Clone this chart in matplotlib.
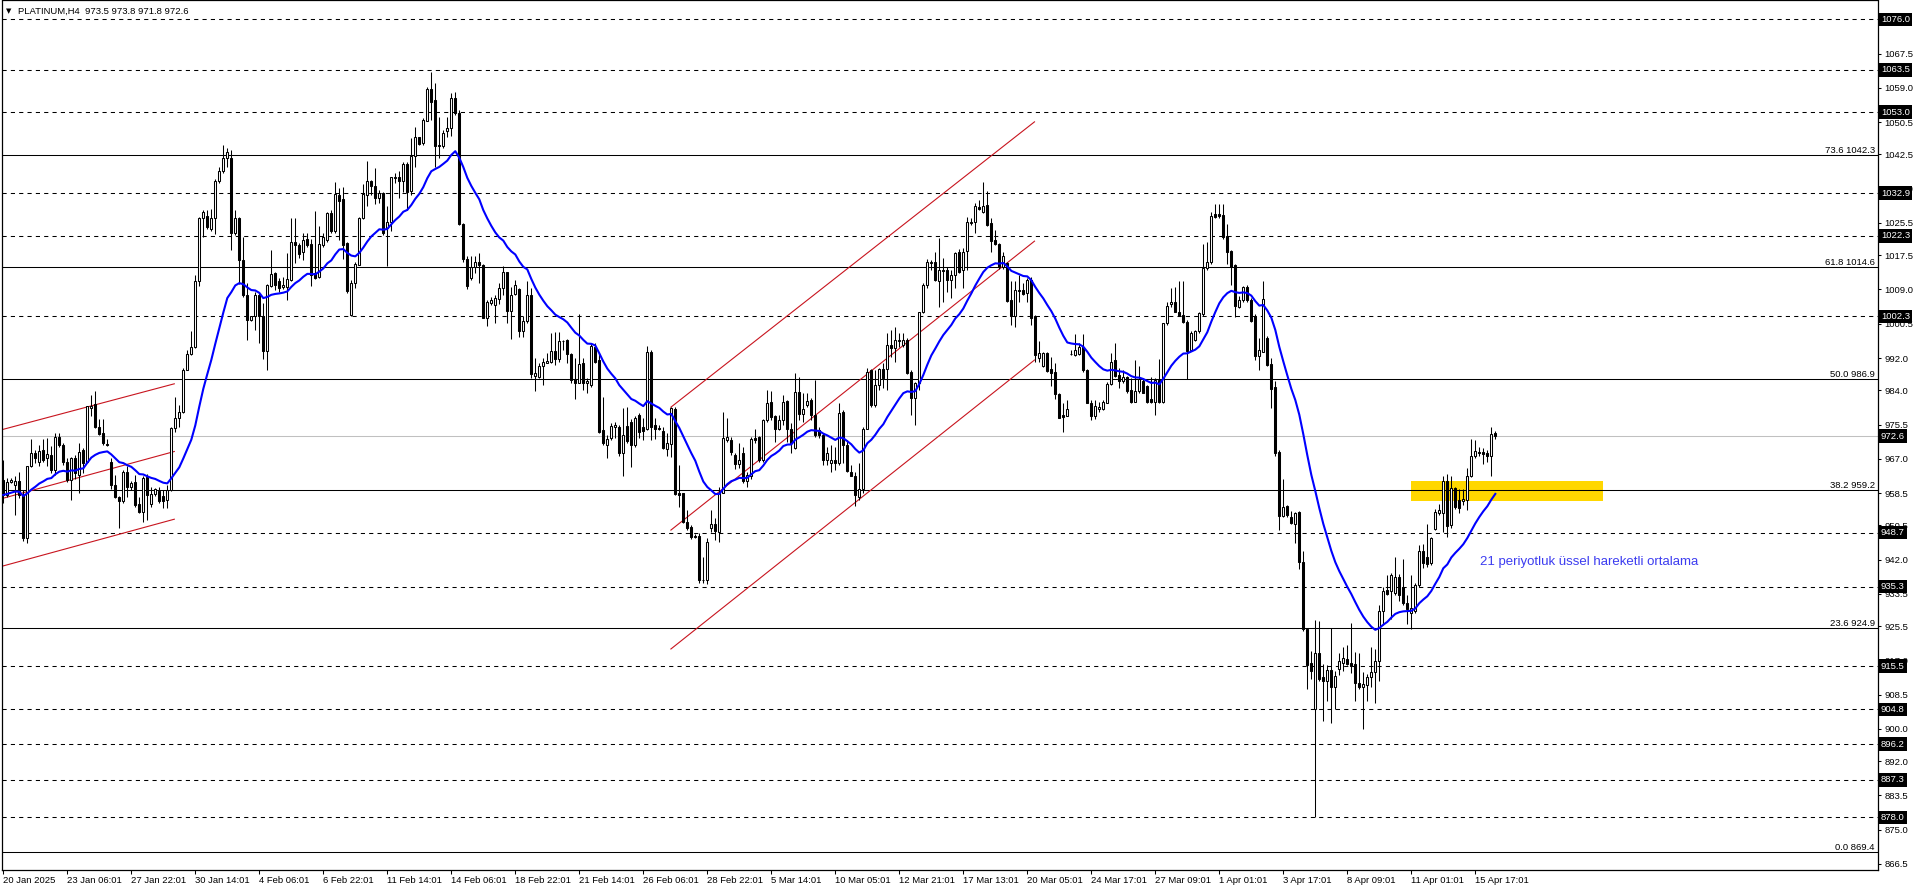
import numpy as np
import pandas as pd
import matplotlib
matplotlib.use("Agg")
import matplotlib.pyplot as plt
from matplotlib.patches import Rectangle
from matplotlib.transforms import offset_copy

plt.rcParams['font.family'] = ['Liberation Sans', 'DejaVu Sans']

# ---------------- data (PLATINUM, H4) ----------------
OPEN = [961.8, 958.0, 961.2, 960.5, 961.5, 958.0, 947.3, 965.1, 968.5, 966.1,
969.2, 967.1, 968.0, 964.2, 972.4, 970.4, 966.3, 961.8, 967.1, 963.0,
969.2, 966.3, 979.5, 980.6, 975.0, 973.3, 970.7, 966.3, 960.5, 957.6,
956.4, 963.8, 959.9, 961.3, 955.8, 953.7, 962.4, 955.7, 958.2, 958.9,
957.8, 956.8, 959.3, 974.7, 977.1, 978.5, 989.0, 993.0, 994.7, 1011.0,
1026.7, 1027.3, 1024.0, 1026.7, 1035.8, 1038.3, 1041.6, 1041.6, 1023.0, 1026.7,
1016.3, 1007.7, 1001.5, 1002.3, 1007.7, 1002.4, 993.8, 1009.9, 1013.2, 1011.0,
1009.6, 1009.7, 1011.4, 1020.9, 1020.1,
1018.4, 1021.5, 1020.3, 1013.0, 1012.2, 1020.1, 1021.3, 1027.9, 1023.6, 1032.5,
1031.4, 1020.6, 1002.7, 1010.7, 1015.2, 1026.7, 1032.5, 1035.9, 1034.7, 1031.6,
1033.0, 1024.2, 1025.7, 1036.7, 1036.8, 1035.8, 1040.1, 1033.5, 1042.1, 1046.8,
1045.3, 1050.9, 1058.7, 1055.9, 1044.9, 1044.5, 1048.4, 1049.0, 1056.4, 1052.9,
1025.2, 1016.5, 1011.8, 1014.5, 1015.9, 1015.1, 1002.0, 1005.7, 1005.2, 1006.6,
1009.4, 1013.3, 1003.7, 1007.8, 1009.1, 998.6, 1001.3, 1007.6, 987.6, 987.4,
990.1, 990.8, 991.1, 993.8, 991.8, 996.2, 996.5, 992.9, 986.7, 985.9,
990.7, 985.7, 985.3, 994.8, 991.5,
974.1, 970.4, 972.1, 975.0, 975.0, 968.4, 975.1, 976.0, 970.4, 977.8,
974.8, 974.4, 993.4, 975.4, 974.6, 974.0, 969.3, 970.7, 979.3, 958.5,
958.5, 951.4, 950.0, 947.8, 947.8, 936.8, 936.8, 949.9, 950.8, 948.9,
958.6, 971.7, 971.7, 967.9, 965.6, 968.4, 961.5, 962.6, 972.1, 972.5,
966.7, 976.6, 981.2, 977.6, 974.3, 976.6, 981.3, 974.3, 969.6, 983.6,
978.0, 980.3, 981.6, 977.9, 974.1, 972.9, 966.7, 966.0, 966.7, 966.0,
978.7, 970.4, 963.6, 962.7, 957.6, 959.4, 974.5, 988.9, 980.3, 985.3,
989.2, 989.2, 995.2, 994.6,
996.1, 995.2, 996.5, 988.6, 982.2, 985.7, 1003.3, 1010.1, 1015.6, 1015.7,
1011.1, 1013.9, 1013.9, 1011.4, 1012.6, 1018.4, 1013.9, 1018.6, 1025.4, 1025.8,
1029.4, 1028.3, 1030.0, 1025.4, 1021.3, 1020.3, 1014.7, 1015.5, 1006.4, 1002.3,
1008.9, 1008.9, 1008.1, 1011.4, 1002.3, 992.1, 989.9, 993.3, 989.2, 988.5,
983.1, 977.8, 977.5, 992.9, 992.8, 993.0, 994.8, 989.0, 980.9, 977.6,
979.3, 979.3, 980.9, 985.6, 991.4, 987.8, 986.4, 987.2, 984.1, 981.2,
983.7, 986.4, 985.1, 981.8, 981.2, 986.6, 981.0, 1000.6, 1005.3, 1006.0,
1003.5, 1002.7, 1001.0, 994.0, 996.5, 998.6,
1002.9, 1014.3, 1015.8, 1027.8, 1027.8, 1027.5, 1022.3, 1018.5, 1015.1, 1004.6,
1006.4, 1009.6, 1006.4, 1002.4, 992.4, 993.6, 996.9, 990.6, 984.7, 968.8,
952.8, 955.3, 952.6, 950.8, 953.8, 941.5, 924.8, 916.3, 904.9, 918.8,
912.8, 911.8, 914.6, 910.3, 914.8, 916.3, 917.3, 916.3, 916.0, 911.3,
910.3, 910.8, 912.8, 914.0, 916.8, 929.3, 934.5, 934.2, 933.7, 937.7,
935.2, 931.2, 928.8, 929.3, 935.7, 944.2, 942.7, 941.2, 949.5, 953.6,
953.6, 961.6, 950.5, 959.8, 956.8, 956.6, 956.8, 962.6, 967.6, 968.8,
968.6, 968.4, 967.6, 973.5]

HIGH = [966.7, 962.2, 962.2, 962.6, 963.8, 959.3, 965.2, 971.9, 969.2, 970.4,
971.9, 972.1, 970.2, 973.5, 973.3, 971.0, 967.1, 967.5, 968.0, 970.9,
969.6, 980.1, 982.9, 983.7, 976.8, 976.8, 971.9, 967.1, 963.0, 957.8,
964.2, 965.1, 961.6, 963.0, 957.6, 962.6, 963.2, 960.1, 959.7, 960.1,
959.3, 960.5, 974.8, 982.4, 980.4, 989.5, 994.0, 998.6, 1012.6, 1027.1,
1028.8, 1028.8, 1028.9, 1036.4, 1039.5, 1044.9, 1044.1, 1043.5, 1028.8, 1027.1,
1022.1, 1010.6, 1002.4, 1008.5, 1008.1, 1005.6, 1010.4, 1018.8, 1013.4, 1011.8,
1012.2, 1018.0, 1026.7, 1026.7, 1020.5,
1023.1, 1022.9, 1021.5, 1028.5, 1024.8, 1022.9, 1028.3, 1028.7, 1035.6, 1034.1,
1034.4, 1020.9, 1011.4, 1015.9, 1027.1, 1035.1, 1040.9, 1036.2, 1039.1, 1033.7,
1033.3, 1029.6, 1037.0, 1038.0, 1038.3, 1040.7, 1040.7, 1046.5, 1049.4, 1046.9,
1051.5, 1059.3, 1062.9, 1060.2, 1051.9, 1048.6, 1051.9, 1057.7, 1058.0, 1053.5,
1025.4, 1017.2, 1017.2, 1017.2, 1018.0, 1015.3, 1006.4, 1007.2, 1007.6, 1010.5,
1014.8, 1013.4, 1009.7, 1011.4, 1009.3, 1002.3, 1011.0, 1009.3, 991.9, 990.7,
991.9, 993.2, 998.1, 998.5, 998.5, 996.5, 996.6, 993.2, 991.9, 1002.9,
991.9, 987.0, 995.6, 995.6, 993.2,
982.4, 972.9, 975.8, 976.0, 975.4, 979.5, 979.8, 976.8, 977.6, 978.3,
977.0, 995.0, 994.0, 977.0, 975.5, 975.0, 973.3, 979.9, 979.8, 965.5,
958.6, 954.3, 950.6, 948.3, 948.7, 942.7, 947.3, 954.3, 952.2, 960.1,
978.7, 977.0, 972.3, 968.5, 970.8, 969.8, 963.8, 972.5, 974.3, 972.6,
976.8, 984.1, 983.7, 977.9, 977.9, 982.8, 981.6, 975.9, 988.4, 987.4,
983.2, 983.2, 982.0, 986.5, 975.0, 973.3, 970.0, 970.4, 970.0, 980.8,
979.1, 971.7, 965.5, 963.8, 965.9, 975.0, 989.4, 989.2, 989.0, 989.4,
990.7, 998.1, 999.0, 999.8,
998.1, 998.1, 996.9, 989.0, 986.1, 1003.5, 1010.5, 1016.5, 1016.3, 1018.4,
1021.7, 1016.8, 1014.7, 1013.9, 1018.4, 1019.0, 1019.2, 1027.1, 1026.7, 1030.4,
1031.2, 1035.6, 1033.5, 1026.7, 1023.8, 1020.5, 1018.4, 1015.9, 1011.0, 1011.0,
1012.6, 1010.7, 1011.8, 1012.0, 1002.7, 996.1, 993.6, 993.6, 992.3, 990.7,
983.3, 980.8, 981.6, 994.0, 998.0, 995.7, 998.0, 989.2, 981.6, 981.6,
981.2, 981.6, 986.1, 993.3, 995.8, 989.5, 989.0, 987.6, 987.0, 991.4,
989.9, 987.0, 985.3, 987.4, 987.0, 991.7, 1000.8, 1006.0, 1009.3, 1009.6,
1011.0, 1011.0, 1001.4, 998.8, 998.9, 1003.5,
1020.3, 1020.8, 1028.3, 1030.3, 1030.3, 1030.3, 1025.3, 1018.8, 1015.3, 1007.4,
1009.9, 1010.2, 1006.9, 1002.9, 996.9, 1011.2, 997.4, 991.9, 986.3, 969.1,
962.1, 955.6, 954.1, 953.8, 954.1, 944.2, 925.0, 919.3, 927.0, 926.8,
916.0, 915.8, 925.0, 914.3, 918.8, 920.3, 920.8, 926.3, 919.0, 918.8,
914.0, 913.6, 920.3, 919.8, 930.8, 935.2, 938.2, 938.7, 942.7, 938.5,
942.2, 933.2, 938.2, 936.2, 945.7, 945.9, 950.7, 947.7, 954.6, 955.8,
962.6, 963.1, 962.6, 960.1, 959.6, 959.6, 964.6, 972.0, 971.7, 969.8,
969.6, 969.1, 975.0, 973.8]

LOW = [956.0, 957.6, 960.9, 953.1, 957.2, 946.5, 946.1, 964.9, 965.9, 965.1,
966.3, 965.1, 963.4, 963.0, 970.0, 965.5, 961.3, 956.8, 961.9, 958.5,
963.4, 965.9, 977.5, 974.6, 972.9, 970.4, 970.2, 959.4, 957.2, 949.8,
956.0, 957.6, 959.3, 955.1, 953.5, 951.4, 951.8, 955.1, 957.8, 956.1,
954.7, 954.7, 958.9, 973.7, 974.8, 978.3, 988.9, 992.8, 994.4, 1009.9,
1022.1, 1024.0, 1023.6, 1022.8, 1035.4, 1038.0, 1039.5, 1018.8, 1022.5, 1010.4,
1007.2, 996.5, 1001.3, 999.0, 995.7, 991.7, 989.0, 1009.7, 1008.9, 1008.5,
1009.0, 1006.4, 1011.2, 1015.5, 1016.8,
1016.3, 1019.6, 1009.9, 1011.5, 1011.8, 1019.6, 1020.9, 1022.9, 1023.1, 1021.3,
1016.5, 1008.1, 1002.4, 1009.3, 1015.1, 1026.4, 1029.6, 1032.5, 1030.2, 1030.4,
1022.5, 1014.8, 1023.6, 1035.5, 1031.6, 1033.3, 1028.7, 1032.5, 1039.3, 1044.9,
1044.9, 1050.7, 1051.1, 1039.5, 1041.6, 1044.0, 1046.9, 1047.1, 1052.3, 1025.0,
1015.9, 1009.1, 1011.4, 1013.0, 1010.7, 1001.9, 1000.0, 1005.2, 1000.6, 1005.3,
1007.6, 1000.6, 996.6, 1007.6, 997.3, 997.3, 1000.6, 987.0, 983.7, 987.0,
985.3, 990.7, 990.8, 990.3, 991.1, 994.0, 990.7, 985.9, 981.8, 985.7,
984.1, 983.4, 984.9, 990.7, 973.5,
970.4, 967.1, 971.7, 972.1, 967.7, 962.8, 970.8, 965.0, 970.0, 972.1,
971.7, 974.1, 971.7, 971.8, 974.1, 969.3, 967.7, 967.5, 957.9, 955.1,
951.0, 949.3, 947.0, 947.3, 936.1, 936.1, 935.9, 948.9, 946.9, 946.4,
958.4, 971.2, 967.9, 964.4, 964.6, 961.1, 960.1, 962.1, 970.8, 966.3,
966.3, 976.0, 976.6, 971.2, 974.1, 975.4, 971.2, 968.4, 969.3, 976.6,
976.2, 979.9, 976.6, 972.5, 972.1, 965.5, 965.5, 963.6, 964.2, 965.5,
965.9, 963.6, 962.6, 955.4, 956.8, 958.4, 974.4, 979.9, 979.9, 984.1,
984.5, 984.1, 992.3, 991.1,
994.8, 994.8, 988.0, 977.9, 975.4, 984.1, 1003.1, 1009.3, 1013.9, 1011.0,
1004.7, 1006.0, 1008.5, 1006.8, 1009.3, 1013.2, 1009.3, 1013.9, 1025.0, 1022.9,
1028.7, 1028.1, 1024.8, 1018.4, 1020.1, 1014.0, 1014.0, 1006.0, 1000.2, 999.8,
1006.0, 1007.6, 1006.0, 1000.2, 991.0, 991.1, 989.7, 988.6, 985.1, 981.8,
977.1, 973.7, 977.5, 992.8, 992.5, 992.8, 988.6, 980.8, 976.6, 976.8,
978.7, 979.1, 980.8, 985.3, 987.2, 984.5, 985.7, 983.4, 980.9, 981.0,
983.4, 983.2, 980.9, 980.8, 977.9, 980.9, 980.9, 1000.2, 1004.7, 1003.3,
1002.3, 1000.6, 986.7, 993.8, 996.1, 998.1,
1002.4, 1013.8, 1015.3, 1026.8, 1026.8, 1021.5, 1015.3, 1010.2, 1002.2, 1004.4,
1005.9, 1005.9, 1000.9, 991.6, 988.9, 993.4, 990.0, 979.7, 967.6, 949.4,
952.6, 952.6, 950.8, 946.2, 939.7, 924.3, 909.8, 912.3, 878.0, 911.8,
901.9, 906.8, 901.4, 904.9, 913.3, 914.3, 915.8, 913.8, 906.8, 909.8,
899.9, 906.8, 910.3, 906.4, 911.8, 925.8, 933.2, 927.3, 933.2, 931.7,
930.7, 926.0, 924.8, 928.8, 935.2, 939.9, 940.2, 940.7, 949.2, 953.1,
948.9, 947.7, 949.9, 954.6, 953.6, 955.6, 954.4, 962.4, 967.1, 967.6,
965.8, 966.1, 962.8, 971.8]

CLOSE = [958.0, 961.3, 961.8, 961.5, 958.0, 947.3, 965.1, 968.5, 967.1, 969.0,
966.7, 968.2, 964.2, 972.5, 970.4, 966.1, 961.8, 967.1, 963.4, 968.8,
965.9, 980.0, 980.1, 974.8, 973.2, 970.9, 970.4, 960.5, 957.6, 956.4,
963.8, 960.0, 961.1, 955.6, 953.7, 962.2, 958.0, 958.3, 959.4, 956.6,
956.6, 959.3, 974.6, 977.1, 978.7, 989.0, 992.9, 994.7, 1011.0, 1026.7,
1028.3, 1024.4, 1026.7, 1035.8, 1038.3, 1041.6, 1043.0, 1023.0, 1026.7, 1016.3,
1007.7, 1001.5, 1002.3, 1007.7, 1002.3, 993.8, 1010.1, 1012.9, 1010.1, 1009.3,
1010.1, 1011.5, 1020.9, 1020.1, 1017.8,
1021.3, 1020.1, 1012.6, 1011.8, 1020.2, 1022.1, 1028.1, 1023.6, 1032.6, 1031.0,
1020.1, 1008.7, 1010.7, 1015.3, 1026.7, 1032.6, 1035.8, 1034.8, 1031.8, 1033.0,
1022.9, 1025.7, 1036.8, 1036.9, 1035.8, 1040.1, 1033.3, 1042.1, 1046.9, 1045.1,
1051.1, 1058.7, 1055.6, 1044.6, 1044.5, 1047.8, 1049.0, 1056.4, 1052.7, 1025.2,
1016.5, 1009.9, 1014.7, 1015.9, 1015.1, 1002.0, 1006.0, 1006.4, 1006.8, 1009.4,
1013.3, 1003.7, 1007.6, 1010.0, 998.6, 1001.3, 1007.6, 988.0, 988.2, 990.1,
991.1, 991.3, 993.8, 991.8, 996.2, 996.1, 992.9, 986.6, 985.9, 990.5,
985.7, 986.3, 995.0, 991.1, 973.7,
970.8, 971.8, 975.2, 975.5, 968.4, 972.8, 971.5, 970.3, 977.0, 973.7,
973.9, 993.4, 975.0, 974.4, 974.4, 969.6, 970.8, 979.5, 958.2, 958.0,
951.4, 949.7, 947.7, 947.6, 936.8, 936.9, 946.4, 950.7, 949.1, 958.6,
972.2, 972.3, 968.8, 965.6, 966.8, 961.5, 963.0, 971.9, 971.7, 966.7,
976.6, 980.8, 977.4, 974.3, 976.6, 981.2, 974.3, 970.8, 983.6, 978.0,
979.4, 981.4, 977.9, 972.9, 972.9, 966.7, 968.4, 966.7, 966.0, 978.3,
970.4, 964.0, 962.7, 957.9, 959.5, 974.5, 988.6, 980.3, 985.3, 989.2,
987.0, 995.2, 994.4, 996.5,
996.5, 996.5, 988.2, 982.2, 985.7, 1003.3, 1010.1, 1015.7, 1015.8, 1011.4,
1013.9, 1013.6, 1011.4, 1012.6, 1018.0, 1013.4, 1018.4, 1025.8, 1025.8, 1029.6,
1028.9, 1029.8, 1025.0, 1021.1, 1020.3, 1014.7, 1017.3, 1006.2, 1002.5, 1008.9,
1008.7, 1007.9, 1011.4, 1001.9, 992.8, 993.2, 993.3, 988.8, 988.4, 983.1,
977.2, 977.3, 979.3, 993.1, 994.0, 994.8, 988.9, 980.9, 977.6, 980.1,
979.8, 981.2, 985.6, 991.1, 987.5, 986.4, 987.4, 983.7, 981.2, 983.9,
986.7, 983.4, 981.2, 981.2, 986.6, 981.2, 1000.6, 1004.9, 1006.0, 1003.5,
1002.5, 1001.0, 993.7, 998.1, 998.7, 1003.1,
1014.3, 1015.8, 1027.3, 1027.1, 1027.3, 1022.1, 1018.3, 1014.5, 1004.9, 1006.4,
1009.6, 1006.4, 1001.2, 992.4, 993.9, 1006.6, 990.2, 984.3, 968.4, 952.8,
955.1, 953.1, 951.1, 953.6, 941.5, 924.8, 915.8, 914.3, 918.8, 912.3,
911.8, 914.6, 910.3, 913.0, 916.8, 917.5, 916.0, 915.6, 911.3, 910.3,
911.1, 912.8, 914.0, 916.8, 929.3, 934.2, 933.5, 938.2, 937.7, 933.2,
931.2, 929.8, 930.0, 935.7, 944.2, 941.2, 940.9, 947.4, 953.8, 954.4,
961.6, 950.2, 959.8, 955.1, 954.8, 957.1, 962.6, 967.6, 968.9, 968.4,
968.2, 967.6, 973.2, 972.6]

TIME_LABELS = ["20 Jan 2025", "23 Jan 06:01", "27 Jan 22:01", "30 Jan 14:01", "4 Feb 06:01",
               "6 Feb 22:01", "11 Feb 14:01", "14 Feb 06:01", "18 Feb 22:01", "21 Feb 14:01",
               "26 Feb 06:01", "28 Feb 22:01", "5 Mar 14:01", "10 Mar 05:01", "12 Mar 21:01",
               "17 Mar 13:01", "20 Mar 05:01", "24 Mar 17:01", "27 Mar 09:01", "1 Apr 01:01",
               "3 Apr 17:01", "8 Apr 09:01", "11 Apr 01:01", "15 Apr 17:01"]
LABEL_STEP = 16

PRICE_TICKS = [1067.5, 1059.0, 1050.5, 1042.5, 1034.0, 1025.5, 1017.5, 1009.0, 1000.5, 992.0,
               984.0, 975.5, 967.0, 958.5, 950.5, 942.0, 933.5, 925.5, 917.0, 908.5,
               900.0, 892.0, 883.5, 875.0, 866.5]

SR_LEVELS = [1076.0, 1063.5, 1053.0, 1032.9, 1022.3, 1002.3, 948.7, 935.3, 915.5,
             904.8, 896.2, 887.3, 878.0]
FIB_PCT = [73.6, 61.8, 50.0, 38.2, 23.6, 0.0]
FIB_LEVELS = [1042.3, 1014.6, 986.9, 959.2, 924.9, 869.4]
BID = 972.6

# trend channels: (bar index, price) endpoints
CHANNEL_1 = [((-0.8, 974.1), (42.75, 985.6)),
             ((-0.8, 957.0), (42.75, 968.8)),
             ((-0.8, 940.2), (42.75, 952.0))]
CHANNEL_2 = [((166.9, 979.8), (257.8, 1050.6)),
             ((166.9, 949.3), (257.8, 1021.0)),
             ((166.9, 919.8), (257.8, 991.5))]
ZONE = (351.9, 399.85, 956.5, 961.5)   # x0, x1, y0, y1
EMA_PERIOD = 21
EMA_TEXT = "21 periyotluk üssel hareketli ortalama"
EMA_TEXT_POS = (369.2, 941.4)
TITLE = "PLATINUM,H4  973.5 973.8 971.8 972.6"

# ---------------- figure ----------------
W, H = 1916, 888
fig = plt.figure(figsize=(W / 100, H / 100), dpi=100)
fig.patch.set_facecolor('white')
ax = fig.add_axes([2 / W, 18.5 / H, 1876 / W, 869 / H])
ax.set_facecolor('white')

O = np.array(OPEN); Hi = np.array(HIGH); Lo = np.array(LOW); Cl = np.array(CLOSE)
n = len(Cl)
x = np.arange(n)

ax.set_xlim(-0.325, 468.675)
ax.set_ylim(865.08, 1080.71)

FS = 6.8
# horizontal levels
for lv in SR_LEVELS:
    ax.axhline(lv, color='black', lw=0.75, ls=(0, (4, 4)), zorder=2)
for lv in FIB_LEVELS:
    ax.axhline(lv, color='black', lw=0.75, zorder=2)
ax.axhline(BID, color='#c0c0c0', lw=0.75, zorder=2)

# fib labels
tr_lab = offset_copy(ax.get_yaxis_transform(), fig=fig, x=-3, y=0, units='dots')
for p, lv in zip(FIB_PCT, FIB_LEVELS):
    ax.text(1.0, lv, f"{p:.1f} {lv:.1f}", transform=tr_lab, ha='right', va='bottom',
            fontsize=FS, color='black', zorder=6)

# zone
ax.add_patch(Rectangle((ZONE[0], ZONE[2]), ZONE[1] - ZONE[0], ZONE[3] - ZONE[2],
                       facecolor='#ffd700', edgecolor='none', zorder=1.5))

# channels
for ch in (CHANNEL_1, CHANNEL_2):
    for (x0, y0), (x1, y1) in ch:
        ax.plot([x0, x1], [y0, y1], color='#c8141e', lw=0.8, zorder=2.2)

# candles
up = Cl >= O
ax.vlines(x, Lo, Hi, color='black', lw=0.75, zorder=3)
bottoms = np.minimum(O, Cl)
heights = np.maximum(np.abs(Cl - O), 0.06)
ax.bar(x, heights, bottom=bottoms, width=0.55,
       color=np.where(up, 'white', 'black'), edgecolor='black', linewidth=0.75, zorder=4)

# EMA 21
ema = pd.Series(Cl).ewm(span=EMA_PERIOD, adjust=False).mean().values
ax.plot(x, ema, color='#0000ff', lw=1.5, zorder=5)

ax.text(EMA_TEXT_POS[0], EMA_TEXT_POS[1], EMA_TEXT, color='#3c3cf0', fontsize=9.5,
        ha='left', va='center', zorder=6)

# axes styling
for s in ax.spines.values():
    s.set_color('black')
    s.set_linewidth(0.9)

ax.yaxis.tick_right()
ax.set_yticks(PRICE_TICKS)
ax.set_yticklabels([f"{v:.1f}" for v in PRICE_TICKS])
ax.tick_params(axis='y', direction='out', length=2.5, width=0.75, pad=2,
               labelsize=FS, colors='black')

xt = [i * LABEL_STEP for i in range(len(TIME_LABELS))]
ax.set_xticks(xt)
ax.set_xticklabels(TIME_LABELS)
ax.tick_params(axis='x', direction='out', length=3, width=0.75, pad=2,
               labelsize=FS, colors='black')
for t in ax.get_xticklabels():
    t.set_ha('left')

# black price boxes on right axis
tr_box = offset_copy(ax.get_yaxis_transform(), fig=fig, x=3, y=0, units='dots')
for lv in SR_LEVELS + [BID]:
    ax.text(1.0, lv, f"{lv:.1f}", transform=tr_box, ha='left', va='center',
            fontsize=FS, color='white', clip_on=False, zorder=10,
            bbox=dict(boxstyle='square,pad=0.25', facecolor='black', edgecolor='none'))

# title
fig.text(6 / W, 1 - 11 / H, "▼", fontsize=5, va='center', ha='left',
         family=['DejaVu Sans'])
fig.text(18 / W, 1 - 11 / H, TITLE, fontsize=FS, va='center', ha='left')

fig.savefig("out.png", dpi=100, facecolor='white')
